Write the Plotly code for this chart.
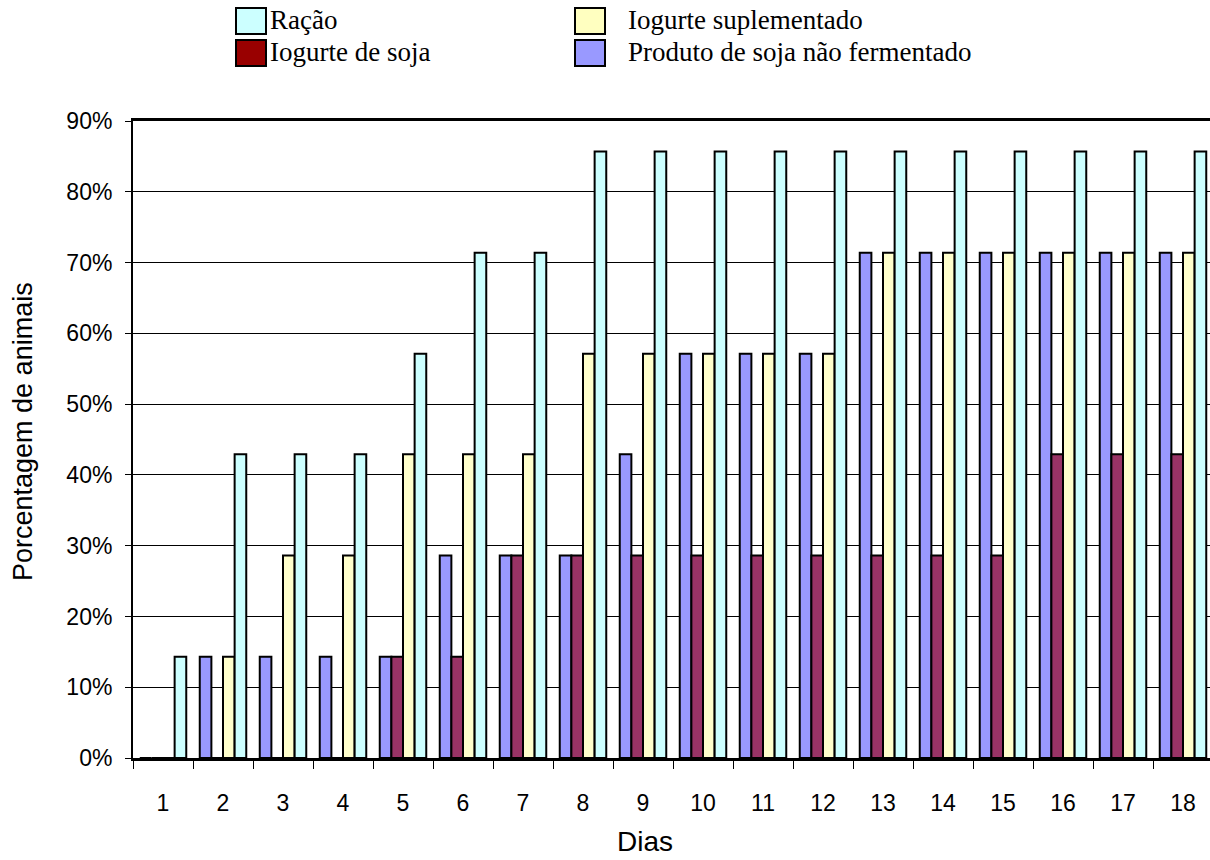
import plotly.graph_objects as go

# ---------------- data ----------------
dias = [str(d) for d in range(1, 19)]

racao = [14.3, 42.9, 42.9, 42.9, 57.1, 71.4, 71.4, 85.7, 85.7, 85.7, 85.7, 85.7, 85.7, 85.7, 85.7, 85.7, 85.7, 85.7]
iogurte_suplementado = [0, 14.3, 28.6, 28.6, 42.9, 42.9, 42.9, 57.1, 57.1, 57.1, 57.1, 57.1, 71.4, 71.4, 71.4, 71.4, 71.4, 71.4]
iogurte_soja = [0, 0, 0, 0, 14.3, 14.3, 28.6, 28.6, 28.6, 28.6, 28.6, 28.6, 28.6, 28.6, 28.6, 42.9, 42.9, 42.9]
produto_soja = [0, 14.3, 14.3, 14.3, 14.3, 28.6, 28.6, 28.6, 42.9, 57.1, 57.1, 57.1, 71.4, 71.4, 71.4, 71.4, 71.4, 71.4]

y_ticks = [0, 10, 20, 30, 40, 50, 60, 70, 80, 90]
y_tick_labels = [f"{v}%" for v in y_ticks]

series_names = ["Ração", "Iogurte suplementado", "Iogurte de soja", "Produto de soja não fermentado"]

# ---------------- styling ----------------
W, H = 1210, 860
L, R, T, B = 133, 0, 121, 102
PW, PH = W - L - R, 860 - T - B

bar_colors = {
    "Produto de soja não fermentado": "#9999FF",
    "Iogurte de soja": "#993366",
    "Iogurte suplementado": "#FFFFCC",
    "Ração": "#CCFFFF",
}
legend_colors = {
    "Ração": "#CCFFFF",
    "Iogurte suplementado": "#FFFFC0",
    "Iogurte de soja": "#990000",
    "Produto de soja não fermentado": "#9999FF",
}
values = {
    "Ração": racao,
    "Iogurte suplementado": iogurte_suplementado,
    "Iogurte de soja": iogurte_soja,
    "Produto de soja não fermentado": produto_soja,
}
bar_order = ["Produto de soja não fermentado", "Iogurte de soja", "Iogurte suplementado", "Ração"]

def px_x(p):
    return (p - L) / PW

def px_y(p):
    return (860 - B - p) / PH

fig = go.Figure()
for name in bar_order:
    fig.add_trace(go.Bar(
        x=dias, y=values[name], name=name,
        marker=dict(color=bar_colors[name], line=dict(color="black", width=2)),
        showlegend=False,
    ))

tick_font = dict(family="Liberation Sans Narrow, Arial Narrow, Liberation Sans, Arial", size=23, color="black")

fig.update_layout(
    width=W, height=H,
    margin=dict(l=L, r=R, t=T, b=B),
    paper_bgcolor="white", plot_bgcolor="white",
    barmode="group", bargap=0.225, bargroupgap=0,
    xaxis=dict(
        type="category", range=[-0.5, 17.45],
        showline=True, linecolor="black", linewidth=3, mirror=True,
        ticks="outside", tickson="boundaries", ticklen=8, tickwidth=1, tickcolor="black",
        showgrid=False, tickfont=tick_font, ticklabelstandoff=22,
    ),
    yaxis=dict(
        range=[0, 90], tickvals=y_ticks, ticktext=y_tick_labels,
        showline=True, linecolor="black", linewidth=2,
        ticks="outside", ticklen=6, tickwidth=1, tickcolor="black",
        showgrid=True, gridcolor="black", gridwidth=1, zeroline=False,
        tickfont=tick_font, ticklabelstandoff=8,
    ),
    font=dict(family="Liberation Sans, Arial", color="black"),
)

# axis titles
fig.add_annotation(text="Dias", xref="paper", yref="paper", x=px_x(645), y=px_y(841),
                   showarrow=False, font=dict(family="Liberation Sans, Arial", size=28, color="black"),
                   xanchor="center", yanchor="middle")
fig.add_annotation(text="Porcentagem de animais", xref="paper", yref="paper", x=px_x(23), y=px_y(432),
                   showarrow=False, textangle=-90,
                   font=dict(family="Liberation Sans, Arial", size=27, color="black"),
                   xanchor="center", yanchor="middle")

# legend (manual, 2 x 2)
legend_pos = {
    "Ração": (236, 8, 268, 20),
    "Iogurte suplementado": (575, 8, 626, 20),
    "Iogurte de soja": (236, 40, 268, 52),
    "Produto de soja não fermentado": (575, 40, 626, 52),
}
for name in series_names:
    sx, sy, tx, ty = legend_pos[name]
    fig.add_shape(type="rect", xref="paper", yref="paper",
                  x0=px_x(sx), x1=px_x(sx + 30), y0=px_y(sy + 26), y1=px_y(sy),
                  fillcolor=legend_colors[name], line=dict(color="black", width=2))
    fig.add_annotation(text=name, xref="paper", yref="paper", x=px_x(tx), y=px_y(ty),
                       showarrow=False, xanchor="left", yanchor="middle",
                       font=dict(family="Liberation Serif, Times New Roman, serif", size=27, color="black"))

fig.write_html("out.html")
